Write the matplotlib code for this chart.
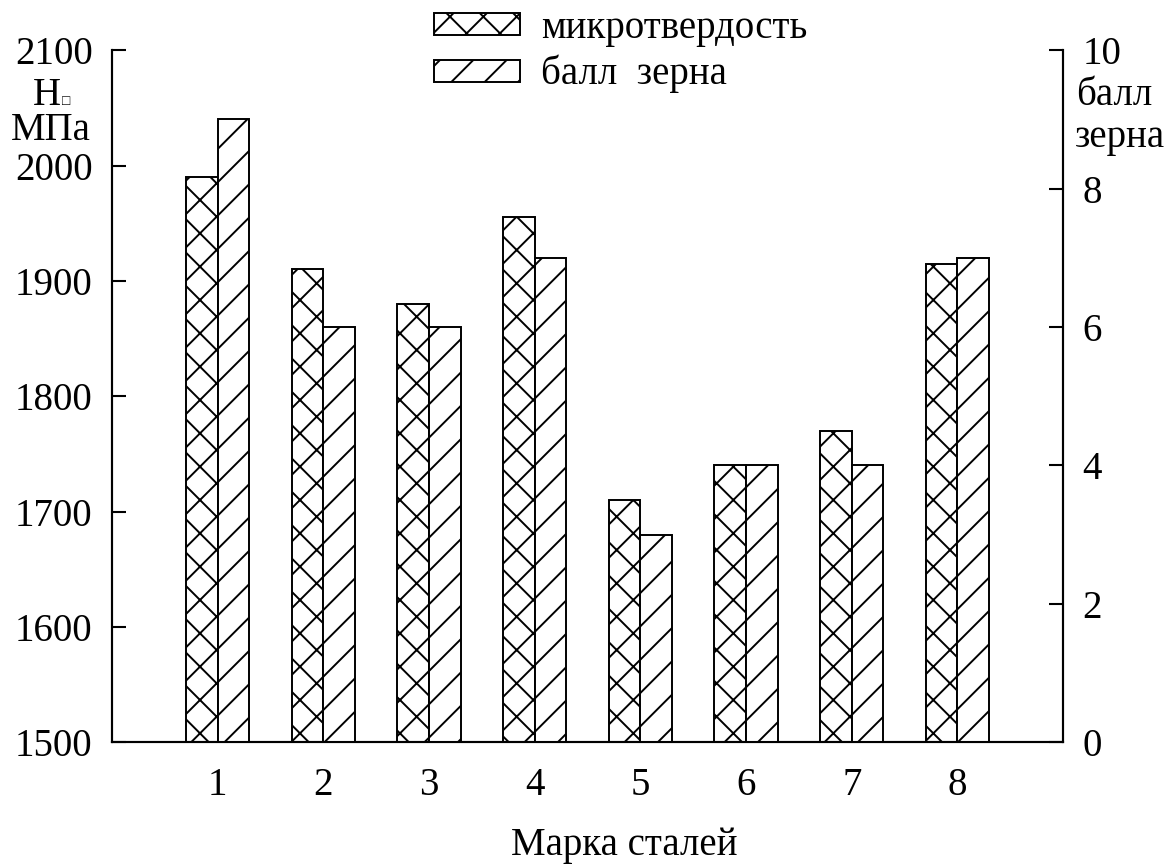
import matplotlib
matplotlib.use('Agg')
import matplotlib.pyplot as plt
import numpy as np

plt.rcParams['font.family'] = ['Liberation Serif', 'DejaVu Serif']
plt.rcParams['hatch.linewidth'] = 0.7

steels = ['1', '2', '3', '4', '5', '6', '7', '8']
hardness = [1990, 1910, 1880, 1955, 1710, 1740, 1770, 1915]
grain = [9, 6, 6, 7, 3, 4, 4, 7]

fs = 14
w = 0.3
x = np.arange(1, len(steels) + 1)

fig = plt.figure(figsize=(5.835, 4.325), dpi=200)
ax = fig.add_axes([0.096, 0.142, 0.815, 0.8])
ax2 = ax.twinx()

b1 = ax.bar(x - w / 2, hardness, w, color='white', edgecolor='black',
            hatch='xx', linewidth=0.7, label='микротвердость')
b2 = ax2.bar(x + w / 2, grain, w, color='white', edgecolor='black',
             hatch='//', linewidth=0.7, label='балл  зерна')

ax.set_ylim(1500, 2100)
ax2.set_ylim(0, 10)
ax.set_xlim(0, 9)
ax.set_yticks(range(1500, 2101, 100))
ax2.set_yticks(range(0, 11, 2))
ax.set_xticks(x)
ax.set_xticklabels(steels)

for a in (ax, ax2):
    a.spines['top'].set_visible(False)
    for s in a.spines.values():
        s.set_linewidth(0.75)
    a.tick_params(direction='in', labelsize=fs, width=0.75, length=5)
ax.tick_params(axis='x', length=0, pad=9)
ax.tick_params(axis='y', pad=7)
ax2.tick_params(axis='y', pad=7)

# x caption sits a little right of the axes centre
fig.text(0.535, 0.0116, 'Марка сталей', fontsize=fs, ha='center', va='baseline')

# axis captions under the top tick labels
fig.text(0.0398, 0.8786, 'H', fontsize=fs, ha='center', va='baseline')
fig.text(0.0566, 0.8827, '\u25a1', fontsize=5, ha='center', va='center')
fig.text(0.0437, 0.838, 'МПа', fontsize=fs, ha='center', va='baseline')
fig.text(0.922, 0.8786, 'балл', fontsize=fs, ha='left', va='baseline')
fig.text(0.921, 0.830, 'зерна', fontsize=fs, ha='left', va='baseline')

fig.legend(handles=[b1, b2], loc='upper left', bbox_to_anchor=(0.367, 0.995),
           frameon=False, fontsize=fs, handlelength=2.2, handleheight=0.5,
           labelspacing=0.2, handletextpad=0.55, borderpad=0.15,
           borderaxespad=0)

fig.savefig('out.png', dpi=200)
